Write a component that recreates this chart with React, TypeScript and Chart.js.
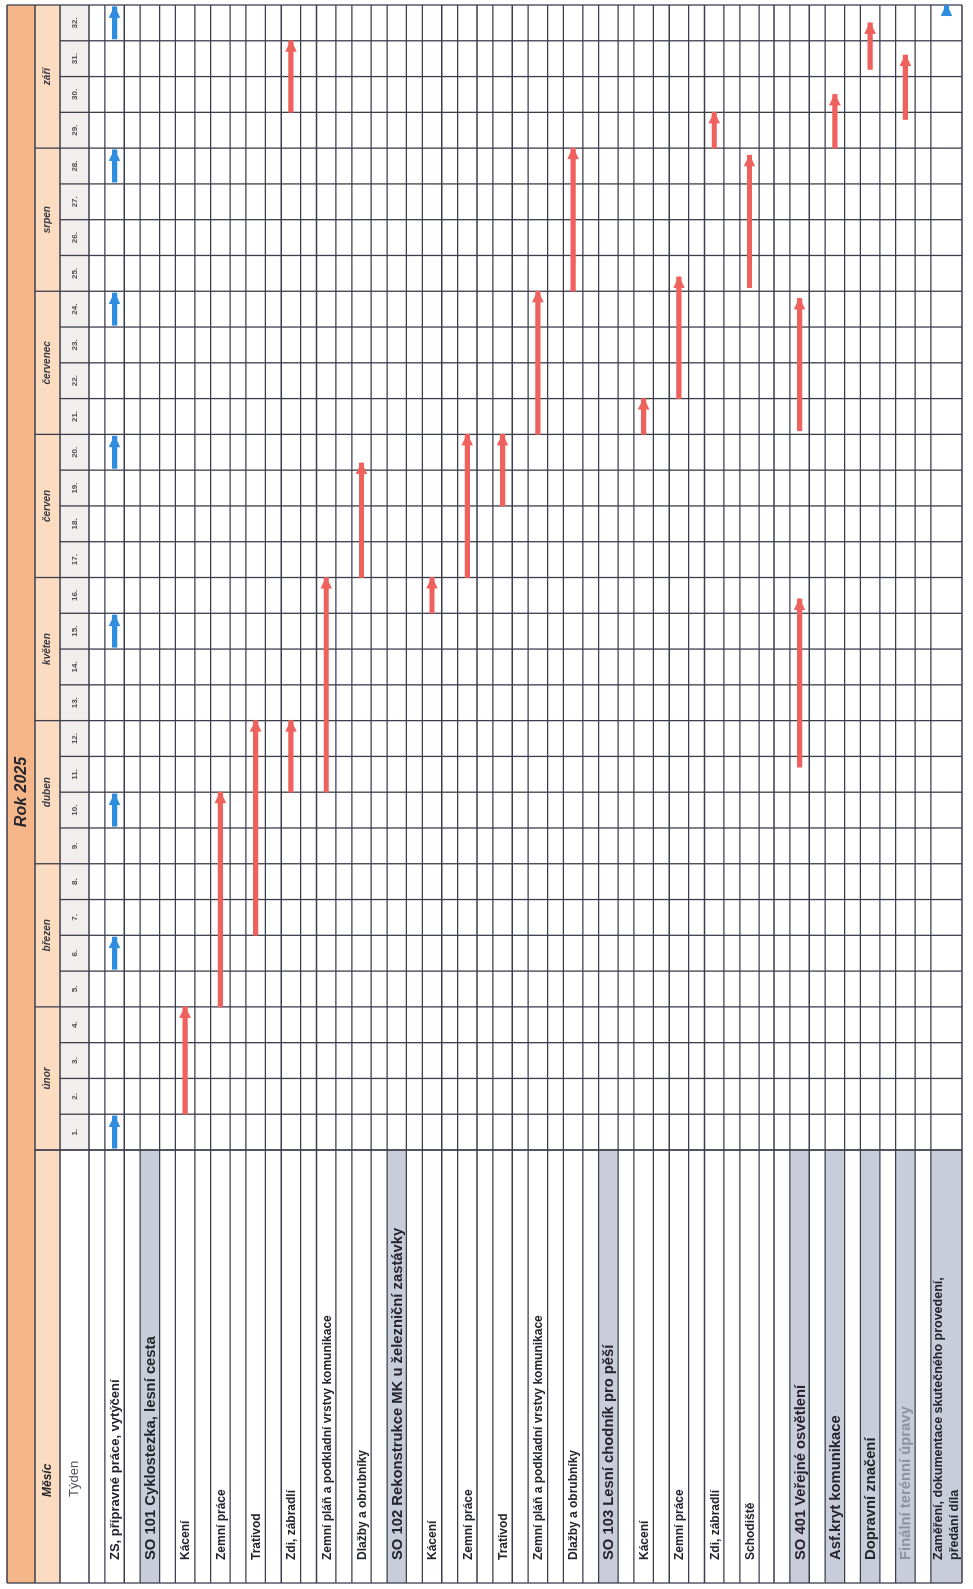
import { useEffect, useRef } from 'react';
import { Chart, registerables } from 'chart.js';

Chart.register(...registerables);

// ---------- data ----------
const TITLE = 'Rok 2025';
const HEAD_MONTH = 'Měsíc';
const HEAD_WEEK = 'Týden';

const TASKS = [
  'ZS, přípravné práce, vytýčení',
  'SO 101 Cyklostezka, lesní cesta',
  'Kácení',
  'Zemní práce',
  'Trativod',
  'Zdi, zábradlí',
  'Zemní pláň a podkladní vrstvy komunikace',
  'Dlažby a obrubníky',
  'SO 102 Rekonstrukce MK u železniční zastávky',
  'Kácení',
  'Zemní práce',
  'Trativod',
  'Zemní pláň a podkladní vrstvy komunikace',
  'Dlažby a obrubníky',
  'SO 103 Lesní chodník pro pěší',
  'Kácení',
  'Zemní práce',
  'Zdi, zábradlí',
  'Schodiště',
  '',
  'SO 401 Veřejné osvětlení',
  'Asf.kryt komunikace',
  'Dopravní značení',
  'Finální terénní úpravy',
  'Zaměření, dokumentace skutečného provedení,|předání díla',
];
const SHADED_ROWS = [1, 8, 14, 20, 21, 22, 23, 24];
const HEADING_ROWS = [1, 8, 14, 20, 21, 22, 23];
const FADED_ROWS = [23];

const MONTHS = ['únor', 'březen', 'duben', 'květen', 'červen', 'červenec', 'srpen', 'září'];
const MONTH_WEEKS = [4, 4, 4, 4, 4, 4, 4, 4];
const WEEK_LABELS = [
  '1.', '2.', '3.', '4.', '5.', '6.', '7.', '8.', '9.', '10.', '11.', '12.', '13.', '14.', '15.', '16.',
  '17.', '18.', '19.', '20.', '21.', '22.', '23.', '24.', '25.', '26.', '27.', '28.', '29.', '30.', '31.', '32.',
];

// red arrows: row index, start week position, end week position
const RED_ROW = [2, 3, 4, 5, 5, 6, 7, 9, 10, 11, 12, 13, 15, 16, 17, 18, 20, 20, 21, 22, 23];
const RED_FROM = [1, 4, 6, 10, 29, 10, 16, 15, 16, 18, 20, 24, 20, 21, 28, 24.1, 10.7, 20.1, 28, 30.2, 28.8];
const RED_TO = [4, 10, 12, 12, 31, 16, 19.2, 16, 20, 20, 24, 28, 21, 24.4, 29, 27.8, 15.4, 23.8, 29.5, 31.5, 30.6];

// blue milestone arrows
const BLUE_ROW = [0, 0, 0, 0, 0, 0, 0, 0, 24];
const BLUE_FROM = [0.05, 5.05, 9.05, 14.05, 19.05, 23.05, 27.05, 31.05, 31.7];
const BLUE_TO = [0.95, 5.95, 9.95, 14.95, 19.95, 23.95, 27.95, 31.95, 32];

// ---------- layout ----------
const CW = 1589; // unrotated canvas width (becomes page height)
const CH = 973; // unrotated canvas height (becomes page width)
const FONT = '"Liberation Sans", Arial, sans-serif';
const SPACER = 0.45;
const ROW_W = TASKS.map((t, i) => (t === '' ? 0.42 : i === TASKS.length - 1 ? 1.33 : 1));
const ROW_START: number[] = [];
ROW_W.reduce((acc, w) => {
  ROW_START.push(acc);
  return acc + w;
}, 0);
const Y_MAX = ROW_START[ROW_START.length - 1] + ROW_W[ROW_W.length - 1];
const labelCenter = (i: number) => ROW_START[i] + SPACER + (ROW_W[i] - SPACER) / 2;
const TOTAL_WEEKS = WEEK_LABELS.length;

const U_BOTTOM = 6;
const V_TOP = 7;
const V_MONTH = 35;
const V_WEEK = 60;
const U_LABEL = 29;

const ganttPlugin = {
  id: 'gantt',
  beforeDatasetsDraw(chart: any) {
    const { ctx } = chart;
    const xs = chart.scales.x;
    const ys = chart.scales.y;
    const u0 = xs.getPixelForValue(0);
    const uR = xs.getPixelForValue(TOTAL_WEEKS);
    const uL = U_BOTTOM;
    const vRows = ys.getPixelForValue(0);
    const vBot = ys.getPixelForValue(Y_MAX);
    ctx.save();
    // backgrounds
    ctx.fillStyle = '#f5b789';
    ctx.fillRect(uL, V_TOP, uR - uL, V_MONTH - V_TOP);
    ctx.fillStyle = '#fbdcc1';
    ctx.fillRect(uL, V_MONTH, uR - uL, V_WEEK - V_MONTH);
    ctx.fillStyle = '#f3eeee';
    ctx.fillRect(u0, V_WEEK, uR - u0, vRows - V_WEEK);
    ctx.fillStyle = '#c8cdd9';
    SHADED_ROWS.forEach((i) => {
      const a = ys.getPixelForValue(ROW_START[i] + SPACER);
      const b = ys.getPixelForValue(ROW_START[i] + ROW_W[i]);
      ctx.fillRect(uL, a, u0 - uL, b - a);
    });

    // grid
    ctx.strokeStyle = '#3d3e4c';
    ctx.lineWidth = 1.3;
    const line = (x1: number, y1: number, x2: number, y2: number) => {
      ctx.beginPath();
      ctx.moveTo(x1, y1);
      ctx.lineTo(x2, y2);
      ctx.stroke();
    };
    const monthEdges: number[] = [0];
    MONTH_WEEKS.reduce((acc, n) => {
      monthEdges.push(acc + n);
      return acc + n;
    }, 0);
    for (let w = 0; w <= TOTAL_WEEKS; w++) {
      const u = xs.getPixelForValue(w);
      const from = w === TOTAL_WEEKS ? V_TOP : monthEdges.includes(w) ? V_MONTH : V_WEEK;
      line(u, from, u, vBot);
    }
    TASKS.forEach((t, i) => {
      const v = ys.getPixelForValue(ROW_START[i]);
      line(uL, v, uR, v);
      if (t !== '') {
        const v2 = ys.getPixelForValue(ROW_START[i] + SPACER);
        line(uL, v2, uR, v2);
      }
    });
    line(uL, vBot, uR, vBot);
    [V_TOP, V_MONTH, V_WEEK].forEach((v) => line(uL, v, uR, v));
    line(uL, V_TOP, uL, vBot);
    line(u0, V_MONTH, u0, vBot);

    // texts
    ctx.textBaseline = 'middle';
    ctx.fillStyle = '#26262e';
    ctx.textAlign = 'center';
    ctx.font = `italic bold 16px ${FONT}`;
    ctx.fillText(TITLE, (uL + uR) / 2 + 2, (V_TOP + V_MONTH) / 2 + 1);
    ctx.font = `italic bold 10px ${FONT}`;
    ctx.fillStyle = '#3a3a44';
    MONTHS.forEach((m, k) => {
      const c = (monthEdges[k] + monthEdges[k + 1]) / 2;
      ctx.fillText(m, xs.getPixelForValue(c), (V_MONTH + V_WEEK) / 2);
    });
    ctx.font = `bold 8px ${FONT}`;
    ctx.fillStyle = '#4a4a52';
    WEEK_LABELS.forEach((wl, k) => {
      ctx.fillText(wl, xs.getPixelForValue(k + 0.5), (V_WEEK + vRows) / 2);
    });
    ctx.textAlign = 'left';
    ctx.fillStyle = '#26262e';
    ctx.font = `italic bold 12px ${FONT}`;
    ctx.fillText(HEAD_MONTH, 92, (V_MONTH + V_WEEK) / 2);
    ctx.font = `13px ${FONT}`;
    ctx.fillStyle = '#55555f';
    ctx.fillText(HEAD_WEEK, 92, (V_WEEK + vRows) / 2);

    TASKS.forEach((t, i) => {
      if (!t) return;
      const heading = HEADING_ROWS.includes(i);
      ctx.fillStyle = FADED_ROWS.includes(i) ? '#8d91a0' : '#23242c';
      const c = ys.getPixelForValue(labelCenter(i));
      const parts = t.split('|');
      if (parts.length > 1) {
        ctx.font = `bold 12.5px ${FONT}`;
        ctx.fillText(parts[0], U_LABEL, c - 7.5);
        ctx.fillText(parts[1], U_LABEL, c + 8);
      } else {
        ctx.font = heading ? `bold 14.8px ${FONT}` : i === 0 ? `bold 13px ${FONT}` : `bold 12px ${FONT}`;
        ctx.fillText(t, U_LABEL, c + 1);
      }
    });
    ctx.restore();
  },
  afterDatasetsDraw(chart: any) {
    const { ctx } = chart;
    ctx.save();
    chart.data.datasets.forEach((ds: any, di: number) => {
      const meta = chart.getDatasetMeta(di);
      ctx.fillStyle = ds.backgroundColor;
      meta.data.forEach((el: any) => {
        const { x, y } = el.getProps(['x', 'y'], true);
        const hl = 11;
        const hw = 5.8;
        ctx.beginPath();
        ctx.moveTo(x + 1, y);
        ctx.lineTo(x - hl, y - hw);
        ctx.lineTo(x - hl, y + hw);
        ctx.closePath();
        ctx.fill();
      });
    });
    ctx.restore();
  },
};

export default function App() {
  const ref = useRef<HTMLCanvasElement>(null);
  useEffect(() => {
    document.body.style.margin = '0';
    const canvas = ref.current;
    if (!canvas) return;
    const redData = RED_ROW.map((r, k) => ({ x: [RED_FROM[k], RED_TO[k]], y: labelCenter(r) }));
    const blueData = BLUE_ROW.map((r, k) => ({ x: [BLUE_FROM[k], BLUE_TO[k]], y: labelCenter(r) }));
    const chart = new Chart(canvas, {
      type: 'bar',
      data: {
        datasets: [
          {
            label: 'Práce',
            data: redData as any,
            backgroundColor: '#ef615d',
            barThickness: 4.5,
            grouped: false,
            borderWidth: 0,
          } as any,
          {
            label: 'Milník',
            data: blueData as any,
            backgroundColor: '#2f8ddf',
            barThickness: 4.5,
            grouped: false,
            borderWidth: 0,
          } as any,
        ],
      },
      options: {
        indexAxis: 'y',
        animation: false,
        responsive: false,
        maintainAspectRatio: false,
        layout: { padding: { left: 439, right: 5, top: 89, bottom: 11 } },
        scales: {
          x: { type: 'linear', min: 0, max: TOTAL_WEEKS, offset: false, display: false },
          y: { type: 'linear', min: 0, max: Y_MAX, reverse: true, offset: false, display: false },
        },
        plugins: { legend: { display: false }, tooltip: { enabled: false } },
      },
      plugins: [ganttPlugin],
    });
    return () => chart.destroy();
  }, []);
  return (
    <div style={{ position: 'relative', width: CH, height: CW, overflow: 'hidden', background: '#ffffff' }}>
      <div
        style={{
          position: 'absolute',
          left: 0,
          top: 0,
          width: CW,
          height: CH,
          transformOrigin: '0 0',
          transform: `translate(0px, ${CW}px) rotate(-90deg)`,
        }}
      >
        <canvas ref={ref} width={CW} height={CH} style={{ width: CW, height: CH, display: 'block' }} />
      </div>
    </div>
  );
}
